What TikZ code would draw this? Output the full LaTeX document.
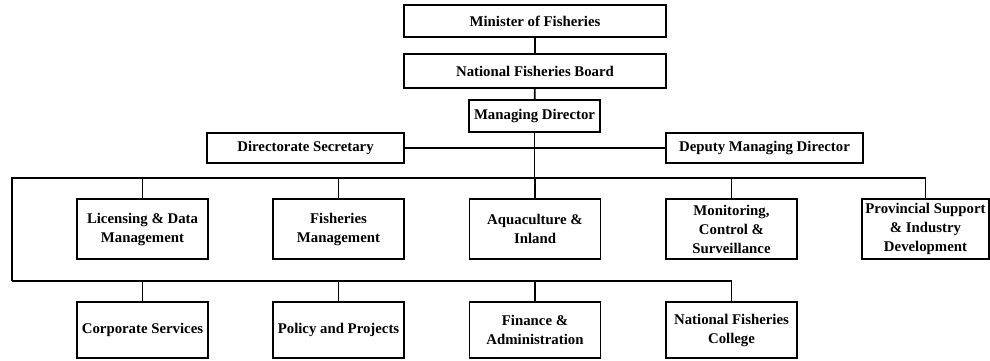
\documentclass[tikz,border=0pt]{standalone}
\usepackage{fontspec}
\setmainfont{Liberation Serif}
\begin{document}
\begin{tikzpicture}[x=1pt,y=-1pt,
		box/.style={draw, line width=1.8pt, align=center, inner sep=0pt, font=\fontsize{14.8}{19}\selectfont\bfseries},
		wide/.style={box, minimum width=262pt},
		side/.style={box, minimum width=197pt, minimum height=30pt},
		unit/.style={box, minimum width=131pt, minimum height=60pt},
		lower/.style={box, minimum width=131pt, minimum height=56pt},
		conn/.style={line width=1.8pt}]
			\useasboundingbox (0,0) rectangle (990,360);
			
			% Top of the chart
			\node[wide, minimum height=32pt] (min) at (535,21) {Minister of Fisheries};
			\node[wide, minimum height=34pt] (nfb) at (535,71) {National Fisheries Board};
			\node[box, minimum width=131pt, minimum height=32pt] (md) at (534.5,116) {Managing Director};
			\node[side] (ds) at (305.5,148) {Directorate Secretary};
			\node[side] (dmd) at (764.5,148) {Deputy Managing Director};
			
			% Divisions, first row
			\node[unit] (lic) at (142.5,229) {Licensing \& Data\\Management};
			\node[unit] (fm) at (338.5,229) {Fisheries\\Management};
			\node[unit] (aqua) at (535,229) {Aquaculture \&\\Inland};
			\node[unit] (mcs) at (731.5,229) {Monitoring,\\Control \&\\Surveillance};
			\node[unit, minimum width=127pt] (prov) at (925.5,229) {Provincial Support\\\& Industry\\Development};
			
			% Divisions, second row
			\node[lower] (corp) at (142.5,330) {Corporate Services};
			\node[lower] (pol) at (338.5,330) {Policy and Projects};
			\node[lower] (fin) at (535,330) {Finance \&\\Administration};
			\node[lower] (nfc) at (731.5,330) {National Fisheries\\College};
			
			% Bus lines
			\coordinate (topbus) at (12,178);
			\coordinate (lowbus) at (12,281);
			
			% Connectors
			\draw[conn] (min) -- (nfb);
			\draw[conn] (nfb) -- (md);
			\draw[conn] (ds) -- (dmd);
			\draw[conn] (md) -- (md |- topbus);
			\draw[conn] (lowbus) -- (topbus) -- (prov |- topbus) -- (prov);
			\draw[conn] (lowbus) -- (nfc |- lowbus) -- (nfc);
			\foreach \n in {lic,fm,aqua,mcs}
				\draw[conn] (\n) -- (\n |- topbus);
			\foreach \n in {corp,pol,fin}
				\draw[conn] (\n) -- (\n |- lowbus);
			
		\end{tikzpicture}
\end{document}
